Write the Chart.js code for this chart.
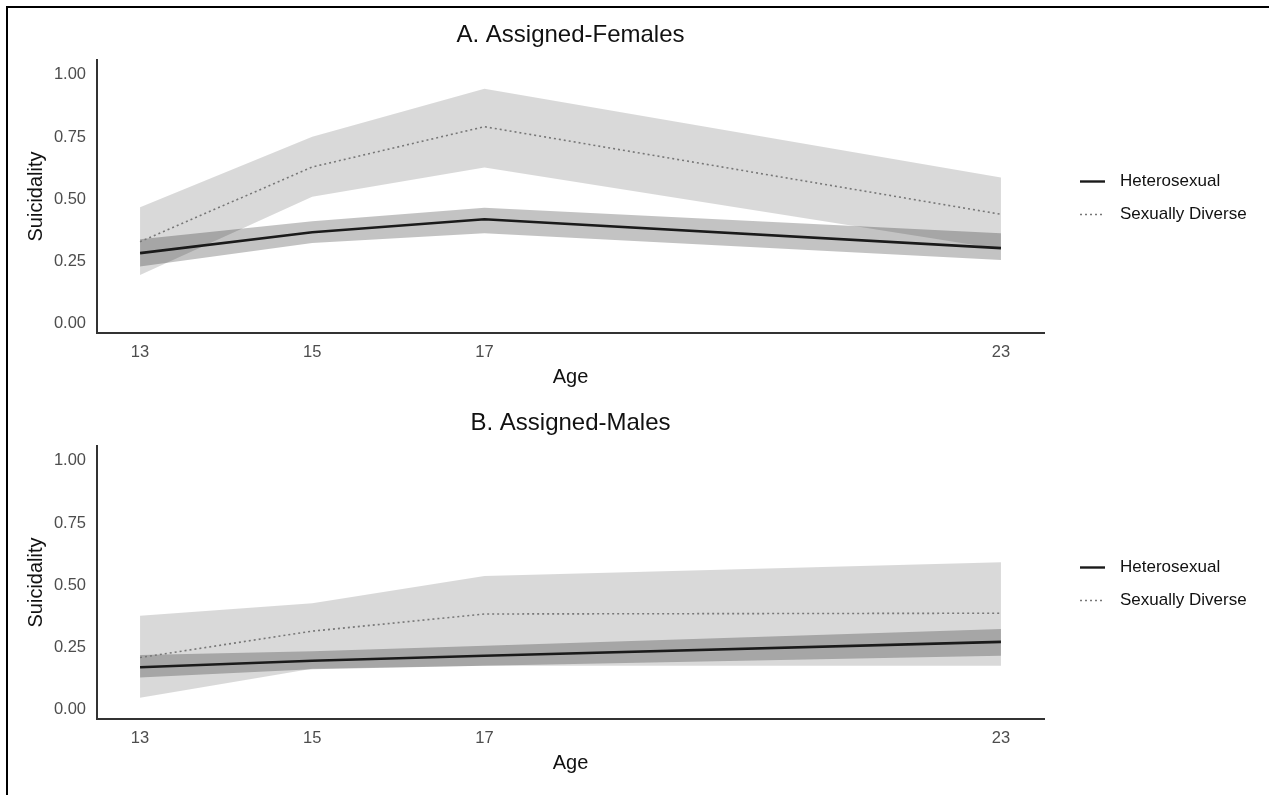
<!DOCTYPE html>
<html>
<head>
<meta charset="utf-8">
<title>Suicidality by age</title>
<script src="https://cdn.jsdelivr.net/npm/chart.js@4"></script>
<style>
  html, body { margin: 0; padding: 0; background: #fff; }
  body { width: 1269px; height: 795px; position: relative; overflow: hidden; }
  .frame { position: absolute; left: 6px; top: 6px; right: 0; bottom: 0; border-left: 2px solid #000; border-top: 2px solid #000; }
  canvas { position: absolute; left: 0; }
  #chartFemales { top: 0; }
  #chartMales { top: 386px; }
</style>
</head>
<body>
<div class="frame"></div>
<canvas id="chartFemales" width="1269" height="392"></canvas>
<canvas id="chartMales" width="1269" height="392"></canvas>
<script>
const ages = [13, 15, 17, 23];
const yTicks = [0, 0.25, 0.5, 0.75, 1];
const groups = ["Heterosexual", "Sexually Diverse"];

// A. Assigned-Females
const femHet   = [0.284, 0.368, 0.420, 0.304];
const femHetLo = [0.230, 0.325, 0.364, 0.256];
const femHetHi = [0.340, 0.412, 0.466, 0.364];
const femSD    = [0.330, 0.630, 0.792, 0.440];
const femSDLo  = [0.196, 0.510, 0.628, 0.300];
const femSDHi  = [0.468, 0.752, 0.944, 0.588];

// B. Assigned-Males
const maleHet   = [0.171, 0.197, 0.217, 0.273];
const maleHetLo = [0.130, 0.163, 0.177, 0.217];
const maleHetHi = [0.220, 0.235, 0.257, 0.325];
const maleSD    = [0.210, 0.316, 0.385, 0.388];
const maleSDLo  = [0.048, 0.165, 0.177, 0.177];
const maleSDHi  = [0.378, 0.428, 0.538, 0.593];

const FONT = '"Liberation Sans", Arial, sans-serif';
Chart.defaults.font.family = FONT;

const pts = arr => arr.map((v, i) => ({ x: ages[i], y: v }));

// title over the plot area + legend on the right
const panelDecor = {
  id: "panelDecor",
  afterDraw(chart, args, opts) {
    const { ctx, chartArea: a } = chart;
    ctx.save();
    ctx.fillStyle = "#111";
    ctx.font = "24px " + FONT;
    ctx.textAlign = "center";
    ctx.textBaseline = "alphabetic";
    ctx.fillText(opts.title, (a.left + a.right) / 2, a.top - opts.titleGap);

    const mid = (a.top + a.bottom) / 2;
    const rows = [
      { text: groups[0], y: mid - 15, color: "#1a1a1a", width: 2.4, dash: [] },
      { text: groups[1], y: mid + 18, color: "#777", width: 1.5, dash: [2, 3] }
    ];
    ctx.font = "17px " + FONT;
    ctx.textAlign = "left";
    ctx.textBaseline = "middle";
    rows.forEach(r => {
      ctx.beginPath();
      ctx.strokeStyle = r.color;
      ctx.lineWidth = r.width;
      ctx.setLineDash(r.dash);
      ctx.moveTo(a.right + 36, r.y);
      ctx.lineTo(a.right + 61, r.y);
      ctx.stroke();
      ctx.setLineDash([]);
      ctx.fillStyle = "#111";
      ctx.fillText(r.text, a.right + 76, r.y);
    });
    ctx.restore();
  }
};

function makePanel(id, title, titleGap, het, hetLo, hetHi, sd, sdLo, sdHi) {
  return new Chart(document.getElementById(id), {
    type: "line",
    data: {
      datasets: [
        { label: "sd-hi", data: pts(sdHi), fill: "+1", backgroundColor: "rgba(0,0,0,0.15)", borderWidth: 0, pointRadius: 0, order: 3 },
        { label: "sd-lo", data: pts(sdLo), fill: false, borderWidth: 0, pointRadius: 0, order: 3 },
        { label: "het-hi", data: pts(hetHi), fill: "+1", backgroundColor: "rgba(0,0,0,0.235)", borderWidth: 0, pointRadius: 0, order: 2 },
        { label: "het-lo", data: pts(hetLo), fill: false, borderWidth: 0, pointRadius: 0, order: 2 },
        { label: groups[1], data: pts(sd), borderColor: "#777", borderWidth: 1.6, borderDash: [2, 3], fill: false, pointRadius: 0, order: 1 },
        { label: groups[0], data: pts(het), borderColor: "#1a1a1a", borderWidth: 2.6, fill: false, pointRadius: 0, order: 0 }
      ]
    },
    options: {
      responsive: false,
      animation: false,
      layout: { padding: { left: 0, top: 60, right: 225, bottom: 0 } },
      plugins: {
        legend: { display: false },
        tooltip: { enabled: false },
        panelDecor: { title, titleGap }
      },
      scales: {
        x: {
          type: "linear",
          min: 12.5,
          max: 23.5,
          grid: { display: false, drawTicks: false },
          border: { display: true, color: "#333", width: 2 },
          afterBuildTicks: s => { s.ticks = ages.map(v => ({ value: v })); },
          afterFit: s => { s.height = 59; },
          ticks: { padding: 10, color: "#4d4d4d", font: { size: 16.5 }, autoSkip: false, maxRotation: 0 },
          title: { display: true, text: "Age", color: "#111", font: { size: 20 }, padding: { top: 0, bottom: 3 } }
        },
        y: {
          min: -0.037,
          max: 1.06,
          grid: { display: false, drawTicks: false },
          border: { display: true, color: "#333", width: 2 },
          afterBuildTicks: s => { s.ticks = yTicks.map(v => ({ value: v })); },
          afterFit: s => { s.width = 97; },
          ticks: { padding: 11, color: "#4d4d4d", font: { size: 16.5 }, callback: v => v.toFixed(2) },
          title: { display: true, text: "Suicidality", color: "#111", font: { size: 20 }, padding: { top: 24, bottom: 0 } }
        }
      }
    },
    plugins: [panelDecor]
  });
}

makePanel("chartFemales", "A. Assigned-Females", 18, femHet, femHetLo, femHetHi, femSD, femSDLo, femSDHi);
makePanel("chartMales", "B. Assigned-Males", 16, maleHet, maleHetLo, maleHetHi, maleSD, maleSDLo, maleSDHi);
</script>
</body>
</html>
